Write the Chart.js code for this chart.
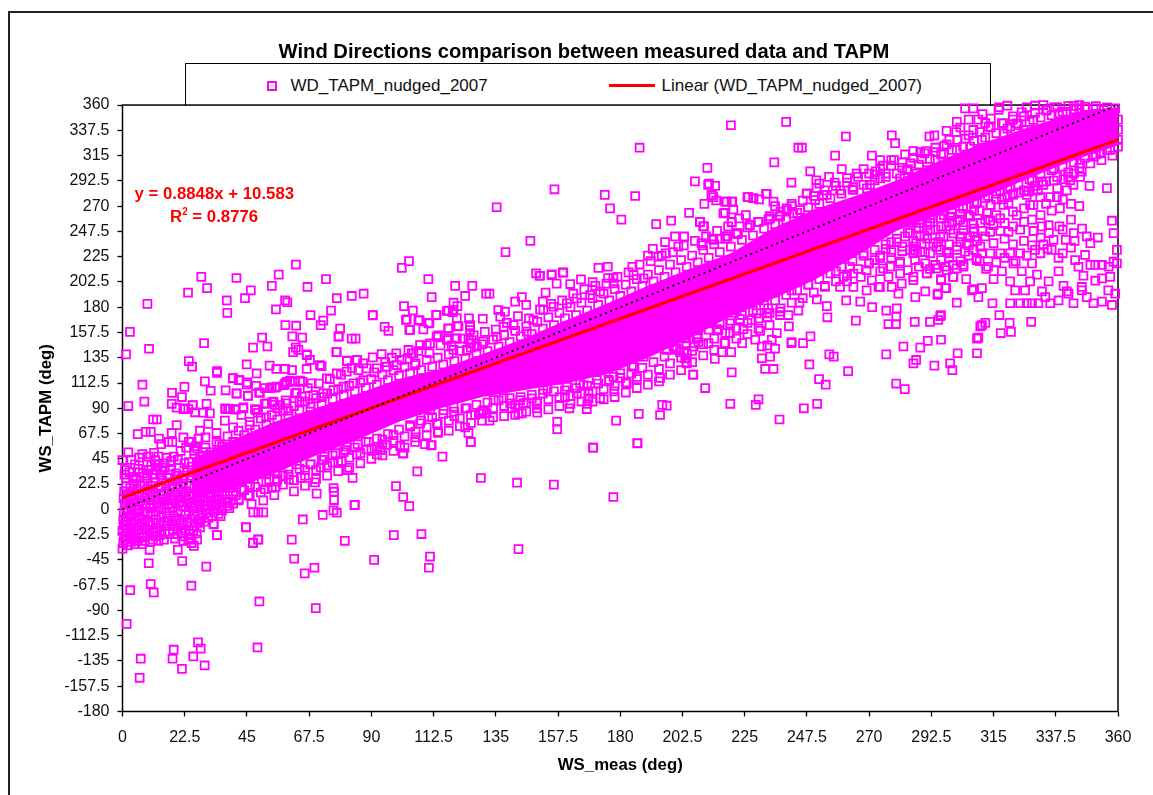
<!DOCTYPE html>
<html lang="en">
<head>
<meta charset="UTF-8">
<title>Wind Directions comparison</title>
<script src="https://cdn.jsdelivr.net/npm/chart.js"></script>
<style>
    body { margin: 0; background: #fff; font-family: "Liberation Sans", Arial, sans-serif; color: #000; overflow: hidden; }
    #frame { position: absolute; left: 8px; top: 11px; right: 0; bottom: 0; border-left: 2px solid #222; border-top: 2px solid #222; }
    #chart { position: absolute; left: 0; top: 0; }
    #legend { position: absolute; left: 184.5px; top: 62.5px; width: 804px; height: 42px; border: 1px solid #000; border-bottom: 0; background: #fff; font-size: 17px; color: #111; }
    #legend span { position: absolute; top: 12px; white-space: nowrap; }
    #legend .box { left: 81px; top: 17px; width: 6px; height: 6px; border: 2px solid #f0f; }
    #legend .line { left: 423px; top: 20px; width: 46px; height: 3px; background: #f00; }
    .eq { position: absolute; color: #f00; font-weight: bold; font-size: 16.8px; white-space: nowrap; }
    .eq sup { font-size: 10px; line-height: 0; }
</style>
</head>
<body>
<div id="frame"></div>
<div id="legend">
    <span class="box"></span><span style="left:105px">WD_TAPM_nudged_2007</span>
    <span class="line"></span><span style="left:476px">Linear (WD_TAPM_nudged_2007)</span>
</div>
<canvas id="chart" width="1153" height="795"></canvas>
<div class="eq" style="left:134.5px;top:184px">y = 0.8848x + 10.583</div>
<div class="eq" style="left:170px;top:207px">R<sup>2</sup> = 0.8776</div>

<script>
    const xTickLabels = ['0','22.5','45','67.5','90','112.5','135','157.5','180','202.5','225','247.5','270','292.5','315','337.5','360'];
    const yTickLabels = ['-180','-157.5','-135','-112.5','-90','-67.5','-45','-22.5','0','22.5','45','67.5','90','112.5','135','157.5','180','202.5','225','247.5','270','292.5','315','337.5','360'];

    // trendline and 1:1 line end points
    const trendX = [0, 360];
    const trendY = [10.6, 329.1];
    const oneToOneX = [0, 360];
    const oneToOneY = [0, 360];

    // the markers overlap into a solid mass along the middle, so that part is an envelope
    const bandX =      [25, 40, 55, 70, 85, 100, 115, 130, 145, 160, 175, 190, 205, 220, 235, 250, 265, 280, 295, 310, 325, 340, 350, 360];
    const bandTop =    [45, 62, 78, 90, 103, 116, 125, 138, 152, 168, 183, 199, 214, 228, 250, 267, 279, 293, 310, 325, 338, 350, 356, 358];
    const bandBottom = [10, 18, 32, 48, 62, 78, 90, 100, 106, 112, 120, 135, 152, 172, 187, 204, 225, 248, 262, 276, 292, 307, 316, 324];

    // individual markers [WS_meas, WS_TAPM], grouped by where they sit in the picture
    const farBelow = [
        [1.5,-102],[2.8,-72],[10.2,-66.5],[11.3,-74],[6.6,-133],[6.2,-150],[18.5,-125],[18.1,-133],[21.5,-142],[25.6,-131],[27.3,-118.5],[28.3,-124],[29.7,-139],
        [48.8,-123],[49.5,-82],[69.9,-88],[24.9,-68],[30.3,-51],[21.6,-46],[20,-36],[9.5,-48],[9.8,-36],[62.1,-44],[65.9,-57],[69.4,-52],[61.2,-27],[80.4,-28],
        [91,-45],[98.1,-23],[47.2,-30],[49.1,-27],[44.7,-16],[34.2,-23],[33,-13.4],[111.2,-42],[110.8,-52],[143.2,-35.4],[108.1,-22],[72.4,-5],[65.2,-9],[76.3,-1],[77.5,-3]
    ];
    const lowLeftCluster = [
        [0,-35],[0.3,-30],[2,-32],[1,-27],[3,-29],[4.5,-31],[0.5,-24],[2.5,-25],[4,-26],[6,-25],[8,-28],[7,-31],[0,-19],[1.5,-21],[3,-20],[5,-22],[7,-21],[9,-23],[11,-27],[13,-28],[15,-27],[17,-22],
        [0.5,-14],[2,-16],[4,-13],[6,-15],[8,-17],[10,-14],[12,-17],[14,-19],[16,-15],[18,-13],[21.4,-21],[21.6,-24],[24.5,-22],[26.8,-21.5],[23.8,-27],[25,-30],[25.8,-32.5],[24.5,-26],[20,-17],[22,-14],[24,-18],[26,-15],[28,-16],
        [0.3,-9],[2.2,-7],[4.1,-10],[6,-6],[8,-9],[10.2,-5],[12,-9],[14,-7],[16.2,-10],[18.5,-6],[20.5,-9],[22.7,-5],[25,-8],[27.3,-10],[29,-5],[31,-7.5],[34.7,-4],[32.9,-13],[34.1,-23],
        [0.5,-3],[2,-1],[4,-3.5],[6,0],[8,-2],[10,1],[12,-2],[14,1],[16,-3],[18,2],[20,-1],[22,2.5],[24,-2],[26,1],[28,3],[30,0],[32.3,3],[34,0.5],[36,-1],[38.6,1],[38,6],
        [0.8,5],[2.5,7],[4.5,4],[6.5,8],[8.5,5],[10.5,9],[12.5,6],[14.5,9],[16.5,5],[18.5,9],[20.5,7],[22.5,11],[24.5,6],[27,9],[29,7],[31,11],[33,8],[35,12],[37,9],[41,12.7],[45.5,12.7],
        [1.3,20.7],[1.3,27.6],[4.9,27.6],[8.8,27.6],[14.2,26],[3,14],[5,18],[7,13],[9,18],[11,15],[13,19],[15,14],[17,18],[19,15],[21,20],[23,16],[26,19],[29,16],[31,20],[34,17],[36,21],[39,19],
        [0.9,35],[4.5,40],[8.9,42],[14.2,35],[11.8,43.9],[0,43.9],[2.1,50.7],[7.2,49.2],[11.4,50.4],[6,33],[9.5,35],[11,31],[12.8,40],[17,31],[19,27],[20.5,37],[22,30],[24,42],[16,46],[18.5,47],[21,52],[23,55],[26,49],[14,58],[18,60],
        [16.6,60],[13.2,63],[17.8,68],[19.6,75],[5.5,67],[8.4,69],[10.2,69],[11.1,80],[12.4,80],[2.1,92],[7.9,96],[7.2,111],
        [5.5,-28],[10,-29],[12,-24],[19,-26],[22,-28],[27,-27],[1.2,-17],[3.4,-23],[5.6,-18],[7.7,-25],[9.8,-19],[11.3,-21],[13.5,-23],[15.4,-20],[18.2,-18],[19.8,-22],[22.8,-19],[25.6,-19],[27.8,-12],[29.6,-11],
        [1,-11],[3,-12],[5,-9],[7,-12],[9.2,-11],[11,-12],[13,-12],[15,-11],[17,-8],[19.4,-10],[21.4,-12],[23.6,-11],[26,-6],[28.5,-8],[30.5,-3],[33,-2],[35.5,-6],
        [1.4,1],[3.2,2],[5.2,-1],[7.3,3],[9.1,-3],[11.2,4],[13.2,2],[15.1,4],[17.1,1],[19.2,5],[21.2,3],[23.4,6],[25.4,3],[27.6,5],[29.7,3],[31.8,6],[33.7,4],[35.8,7],[37.9,3],[40,5],[42,8],
        [0.4,10],[2,12],[4,9],[6,12],[8,10],[10,13],[12,11],[14,13],[16,10],[18,13],[20,11],[22,15],[24,12],[26,14],[28,12],[30,15],[32,13],[34,9],[37,14],[40,16],[43,18],[46,22],
        [0.6,16],[2.8,19],[4.2,23],[6.4,21],[8,23],[10.2,21],[12,24],[13.8,21],[15.8,23],[18,22],[20,25],[22,23],[24.2,21],[27.2,23],[30,24],[32.4,23],[35,25],[38,24],
        [0.7,31],[2.5,33],[3.8,29],[5.7,36],[7.4,32],[9,30],[10.4,39],[12,35],[13.6,31],[15.3,37],[17.4,35],[19.3,32],[21.6,28],[23.5,33],[25.2,30],[27.5,27],[29.5,32],[31.5,28],[33.5,33],[36,30],[40,34],
        [3.2,44],[6,46],[9.4,47],[13,47],[15,41],[17.6,43],[20,44],[22.4,41],[25,38],[27.4,42],[29.6,38],[32,41],[26.4,56],[29,51],[31.5,48],[34,46],[36.5,51],[38.5,47],[24,60],[27.5,63]
    ];
    const lowBandEdge = [
        [46.7,4.7],[50.9,8],[47.3,-2.7],[49.1,-2.7],[50.9,-2.7],[44.6,-15.8],[49.1,-26.7],[47.2,-29.7],[54.9,12.7],[51.5,18],[46.1,20],[55.4,20],[55.8,24.6],[53,26.7],[60.2,26.7],[64.5,28],[69.6,24],[70.2,14],
        [76.3,19],[76.5,15.7],[76.5,8.3],[83.9,3.8],[83.2,28],[81.4,35],[79.3,43],[71.7,37.4],[76,41.5],[72.5,44],[84.7,49],[88.3,53.4],[92,54.3],[93.4,52.8],[95.6,57.3],[100.4,56.6],[101.4,49.5],[92,49],[80.6,52.8],
        [41,22],[43,26],[38,29],[42,33],[45,31],[47.5,27],[49,35],[52,32],[56,33],[58,30],[36,37],[39,43],[40,24],[44,40],[60,36],[63,40],[66,35],[68,40],[73,47],[77,50],[81,56],[85,58],[89,60],[94,62],[98,66],
        [98.9,20.7],[101.5,11],[103.7,2.9],[106.6,33.8],[84,4],[115.7,46.9],[126,60],[111.6,57],[109.4,58],[105.8,60],[101.6,50],[125.9,60],[125.1,68],[123.9,73],[132.7,79],[129.3,85],[131.7,85.5],[120,83],[114.2,69],[111.8,57.3],
        [157.2,78],[157.2,71.4],[161.6,90],[178.5,79],[186.7,85],[170.2,55],[186.2,59],[186.2,58.8],[170.2,54.9],[194.4,84],[195.2,93],[196.8,92.3],[194.4,117],[206.4,120],[186,118],[182.4,112],[177.8,105],[172.7,99],[164.3,103],[153.7,107.4],[160,100],
        [168.5,104.7],[168.5,98.8],[168.1,93.8],[167.9,89.3],[149.8,94.4],[149.8,90],[143.8,97.3],[140.8,90],[143.2,85.5],[144.4,85.5],[204,130],[203.5,134.5],[201.6,140],[199.2,144.8],[184.8,127],[142.7,23.7],[129.6,27.9],[156,22],[177.5,11],
        [107.6,76.6],[104,73.6],[110.6,82.5],[113.7,76.6],[102.8,85.5],[106.4,88.4],[111.3,88.4],[116.1,88.4],[119.7,91.4],[124.5,89.9],[127.5,84],[130.5,88.4],[134.2,97.3],[137.8,98.8],[140.2,94.4],[145,94.4],[148,98.8],[152.2,106.3],[157.1,115.2],[160.7,109.2],
        [166.7,110.7],[171.5,115.2],[175.8,115.2],[180,121.1],[184.2,127],[188.4,135.9],[192,146.3],[196.8,141.9],[200.5,143.4],[204.1,138.9],[206.5,144.8],[203.5,152.3],[207.7,152.3],[208.3,161.2],[202.9,174.5],[207.7,171.5],[193.2,155.2],[187.8,138.9],[177.6,118.1],[165.5,112.2],[156.5,116.6]
    ];
    const upperLeft = [
        [2.7,158],[1.3,138],[9,183],[9.6,143],[23.7,193],[28.5,207],[30.6,197],[41.2,206],[37.7,186],[37.9,175],[44.3,188],[46.4,195],[54,199],[56.5,209],[62.7,218],[66.9,198],[73.6,205],[58.8,186],[59.6,184.4],[55.5,178],
        [68,173],[75.4,177],[77.5,188],[82.9,190],[87.2,192],[90.5,173],[72.6,168],[71.7,164],[58.9,164],[62.8,163.5],[78.7,161],[78.1,154],[82.9,152],[84.3,152],[61.4,154],[65,153],[50.5,153],[52.4,145],[47.2,144],[29.5,148],
        [77.3,140],[62.7,144],[63.6,142],[61.7,140],[66.7,137.4],[67.8,133],[72,127.5],[81.2,132],[84.9,133],[24,132],[25.2,127],[34.2,123],[34.2,121.6],[44.9,129],[53.2,128],[48.5,121],[55.6,125],[58.8,125],[61.3,124],[66.6,125],
        [39.9,116.7],[42,115],[45.1,113],[29.8,114],[22.4,109],[31.9,105.6],[17.9,103.8],[37.3,106],[41.2,103],[45.3,101],[21.5,100],[48.3,110],[49.7,103.8],[51.5,108],[53.3,108],[55.2,108.3],[58.5,110.7],[59.4,113.6],[62.4,113.6],[65,113.6],
        [17.8,94],[19.6,90.5],[25.4,92.6],[30.4,94],[22,89.3],[23.8,89.3],[26.2,86.4],[31.6,85.5],[29.2,86],[37.3,89.3],[38.2,89.3],[40.9,88.7],[43.7,90],[48.3,88.4],[51.5,94],[54,95.3],
        [101.8,181],[105,177],[102.5,168.6],[107,168],[111,166],[103.7,159.7],[108.8,160.3],[113.4,173],[117.8,161],[121.1,163],[125.3,170],[125.7,164],[125.7,159.7],[130.3,169.7],[114.2,155],[117.8,152],[120.3,152],[125.1,151.4],
        [110.6,205],[120.3,199],[126.5,199],[123.9,190],[111.8,189],[131.5,192],[132.7,192],[119.7,184],[121.1,181],[117.8,177],[119.4,175.5],[101,215],[103.6,221],[138.5,229],[147.5,239],[135.3,269],[156.2,285],[135.9,177.5],[138.3,176],
        [142,185],[144.4,189],[146,182],[152,185],[153,193],[157,201],[150.8,208],[155.2,208.6],[159.4,210.7],[161.9,200.6],[165.8,204.8],[170,202.4],[175.6,206],[177.5,206],[149.6,210.2],[151,208],[155.2,209.3],[159.2,211],
        [71.4,128.5],[66.6,138],[77.5,140],[81.1,132.4],[84.7,133],[90.5,135.3],[93.7,138.3],[97.4,135],[101,133],[104.6,138.9],[103.4,141.9],[107.6,146.3],[111.2,147.8],[113.6,153.7],[117.3,150.8],[120.9,152.3],[125.7,147.8],[128.1,144.8],[126.3,150.8],
        [117.9,161.2],[121.5,163.2],[125.7,162.6],[110.6,165.6],[107.4,168.6],[104,159.7],[102.8,169.2],[113.6,173],[119.7,177.5],[117.3,176.6],[120.9,170],[90.5,172.7],[94.8,162.6],[96.2,159],[78.2,153.7],
        [44.9,111.3],[39.9,116.9],[42.3,115],[41.3,103.3],[45.4,101.2],[49.4,104.2],[54,108.6],[55.8,109.2],[58.8,112.2],[60.6,114.6],[64.2,114.6],[68.4,112.2],[73.9,116.6],[77.5,121],[81.1,122.6],[85.3,124],[88.3,125.5],[92,125.5],[95.6,127],[99.2,128.5],[105.8,128.5],
        [52.1,94.4],[54.6,95.9],[57,92.9],[59.4,94.4],[62.4,103.3],[64.8,100.3],[69,101.8],[72.6,103.3],[76.3,106.2],[79.9,109.2],[83.5,112.2],[87.1,115],[25.4,92.9],[22.6,89.9],[37.1,89.9],[38.9,89.3],[40.7,89.3],[43.7,90.8],[47.9,89.3],
        [28,70],[31,76],[34,68],[37,79],[40,73],[43,84],[46,78],[49,86],[52,82],[56,90],[60,88],[64,96],[68,94],[72,100],[25,60],[30,64],[35,58],[27,54],[22,64],
        [105.2,138.9],[110,146.3],[119.7,141.9],[124.5,141.9],[130.5,149.3],[135.4,153.7],[137.8,162.6],[136.6,171.5],[141.4,164.1],[146.2,158.2],[148.6,168.6],[152.2,177.5],[155.9,180.4],[160.7,183.4],[164.3,187.9],[169.1,190.8],[172.7,193.8],[177.6,201.2],[184.8,208.6],[188.4,205.7]
    ];
    const upperMiddle = [
        [220,342],[240,345],[187,322],[244.4,322],[235.7,309],[211.5,304],[207,292],[241.9,291],[212.1,290],[214.3,288],[213.1,280],[213.7,278],[214.7,275],[210.4,272],[174.4,280],[176.3,268],[185.4,279],[180.4,258],[193,254],[198.4,257],[204.9,264],[208.9,256],[210.3,252],
        [172.1,215],[175.5,216],[184.4,216],[190,226],[191.8,232],[193.8,225],[196.5,228],[196.2,238],[199.8,243],[203.1,243],[201,234],[209.7,235],[213.1,241],[216.1,241],[218.8,243],[222.4,245],[217.9,264],[220.3,256],[217.9,274],[220.3,274],[220.9,267],[225.4,262],[226.7,253],
        [226,278],[228.2,277],[230.2,276],[233,281],[235.4,274],[236,270],[230,256],[233.6,258],[237.8,262],[240.2,268],[211.8,289],[213,280],[208.8,256],[210,252],[209.4,237],[213.7,240],[218.5,243],[222.5,246],[217.3,263.5],[220.3,255.5],[218.5,274],[220.5,274],
        [226.3,278],[228.1,277],[232.7,281],[240.2,266.5],[242,272],[245,266.5],[247.4,281],[253.4,280],[259.5,284],[264.3,287],[226.9,253],[229.9,256],[234.2,259],[237.8,260.6],[242.6,263.5],[251,286],[270.3,289],
        [261.6,332],[278.2,333],[279.4,326],[304.7,357],[307.7,357],[316.8,355.6],[320,359.4],[325.2,353.5],[330,359.4],[301.7,345],[301.5,336],[309.5,347],[293.6,333],[291.8,332],[288.5,318],[290.6,319],[304.7,330],[297.1,323.5],[245.7,322],[257.7,315],[271,315],[278,311],
        [248.7,301],[250.9,293],[257.5,291],[260.1,303],[268,303],[272.4,301],[276,299],[282,304],[348.1,358.6],[351.1,357],[354.8,355.6],[359,357],[360,347],[360,338],[360,329],[329.4,346.7],[334.3,355.6],[338.5,352.6],[341.5,354],[318.6,343.7],[321,340.8],[323.4,343.7],[325.8,337.8],[313.2,340.8],
        [307.7,337.8],[310.8,329],[306.5,323],[301.7,320],[296.9,317],[293.9,311],[290.9,302],[287.2,299],[283.6,302],[281.2,294.7],[274,294.7],[269.2,285.8],[264.3,284.4],[254.7,280],[250.5,275.4],[247.5,281.4],[315,323],[318.6,334.8],
        [252,290],[255.5,296],[262,295],[265.5,299],[272,298],[275,306],[279,311],[285,308],[289,312],[294,318],[298,337],[303,340],[306,347],[311,352],[314,348],[317,358],[322,350],[327,358],[333,360],[337,358],[344,359],[346,357],[312,344],[299,329],[286,319],[283,316],[274,311]
    ];
    const lowerRight = [
        [233.5,179],[233.2,171],[244.4,177],[244.8,184],[251.1,187],[241,163],[237.8,176],[254.7,181],[254.9,171],[265.2,168],[261.7,186],[266.8,185],[271.1,180],[276.2,177],[280,179],[279.8,171.5],[277,165],[279.7,165],[286.5,167],[292,167],[295,168.6],[296,173],
        [290.3,194],[286.7,189],[294.7,191],[301.7,184],[297.5,197],[305.1,205],[300.3,207],[296,205],[307.2,195],[309.5,189],[310.2,163],[309,152],[309,139],[302,139],[299.3,130],[300.1,124],[293.6,128],[296,151],[291.2,150],[288.5,144],[282.4,145],[276.2,138],
        [287,133],[286,130],[279.8,112],[282.9,107],[262.4,123],[251.9,116],[254.3,111],[248.4,129],[257.2,136],[255.6,138],[248.8,154],[246.1,148],[242,149],[237.6,80],[235.4,125],[232.4,125],[220.3,122],[210.7,108],[206.4,120],[219.8,94],[230,98],[229,93],[246.4,90],[251.2,94],[214.2,134],[204,130.5],
        [203.5,153],[203,140],[208.3,149],[211.9,148],[217.7,148],[224.1,148],[228.8,151],[230.6,159],[236.6,157],[234.8,151],[233.2,146],[231.2,145],[236,143],[231.2,134.5],[234.2,136],[216.7,140],[220.1,140],[219.7,157],[214.9,160.5],[224.5,160.5],[241.9,148],
        [314.6,183.5],[321,183.5],[324.6,183.5],[327,183.5],[328.9,183.5],[331.2,183.5],[335.5,183.5],[338.5,186],[342.1,192],[343.9,183.5],[346.9,195],[348.7,189],[351.1,183.5],[354.2,185],[357.8,182],[359,192],[356.5,195],[358.4,220.5],[359.6,219],[356.6,216],[354.2,217.6],[351.8,217.6],[350,217.6],[359.6,231],[358.4,246],[357.8,257],[356,286],[349.7,288],
        [352.7,242],[350,237],[348.7,243],[344.3,239],[341.1,240],[336.7,240],[334.5,232],[331.9,228],[338.8,252],[334.9,253],[332.5,252],[329.5,248],[338.5,224],[338.5,212],[348.1,226.5],[344.5,222],[345.7,216],[347.5,208],[351.8,203.6],[354.2,205.7],[357.2,207],[340.3,199],[341.5,194],[346.9,198],[333.7,189],[332.5,194],[330.7,209],[334.9,203],[328.2,203],[325.2,212],
        [326.4,195],[322.8,195],[321,203],[318,212],[312.3,214],[315,205],[307.7,196],[310.8,197],[300.5,207],[296,204],[297.9,197],[294.9,192],[280.6,192],[273.4,198],[278.2,198],[281.8,201],
        [295.7,172],[317.1,173],[320.8,166],[328.6,167],[310.8,164],[312,166],[317.6,157],[321.3,158],[309.5,153],
        [286,234],[286.6,231],[288.5,229],[292.1,228],[295.7,231],[298.7,228],[301.7,234],[304.7,229.5],[307.7,231],[310.8,228],[286.6,222],[290.3,219],[293.9,217.6],[297.5,216],[300.5,217.6],[304.1,217.6],[308.9,222],[281.2,219],[277.6,216],[281.2,210],[286,207],[290.9,210],
        [284.8,246],[288.5,243],[292.1,249],[295.7,243],[299.3,249],[302.9,243],[306.5,243],[310.2,234],[313.8,228],[317.4,228],[321,228],[324.6,228],[328.9,219],[322.2,219],[320.4,247],[324.6,249],[329.4,248],[317.4,259],[313.8,257],[310.2,255],[306.5,260.6],[302.9,258],[299.3,260.6],[295.7,259],[292.1,259],[288.5,255],[284.8,255],
        [305.3,269.5],[308.9,272.5],[313.8,271],[318.6,271],[312.6,263.6],[323.4,262],[317.4,248],[313.8,247],[307.7,247],[329.4,284],[331.9,278],[335.5,278],[337.9,278],[327.6,283],[328.2,271],[329.4,271],[343.9,289],[341.5,284],[324.6,299],[321,287],[317.4,284],[322.2,281],[320.4,272.5],
        [357.2,320],[353.6,317],[351.2,314],[346.3,308],[346.9,300.7],[346.3,296],[342.7,293],[340.3,294],[336.7,292.7],[332.5,291.8],[328.9,292.7],[336.7,303.6],
        [203.4,168.5],[206.4,174.5],[208.2,159.6],[211.8,165.6],[215.5,159.6],[219.7,165.6],[223.3,169.4],[227.5,168.5],[229.3,174.5],[222.1,177.4],[216.1,174.5],[210.6,176],[204,176],[233,174.5],[237.8,173],[240.8,173],[259.5,198],[264.3,198],[269.1,195],[273.9,198],[286,204],[290.8,210],[294.4,214.6],[298.1,213],[301.7,214.6],[304.1,216],
        [281.2,220.5],[275.1,214.6],[269.1,213],[264.3,210],[260.7,207],[286,228],[290.2,229],[294.4,233.8],[298,229],[301.7,231],[305.3,236.8],[308.3,242.7],[308.9,223.5],[307.7,254.6],[304.1,248.7],[300.5,245.7],[296.9,242.7],[293.2,236.8],[289,236.8],[284.8,231],[280,238],[276,232],[272,222],[268,228],[263,216],[258,212],[255,220],
        [205,195],[211,190],[218,188],[224,192],[230,186],[236,197],[242,195],[248,200],[254,198],[213,181],[221,180],[227,183],
        [262,203],[267,207],[271,204],[274,212],[277,207],[284,213],[288,216],[292,214],[296,222],[299,224],[303,221],[306,226],[310,221],[313,216],[316,220],[319,224],[323,221],[327,226],[330,231],[333,236],[336,231],[340,228],[343,233],
        [270,219],[274,226],[278,224],[282,230],[287,237],[291,241],[295,238],[299,236],[303,238],[306,235],[309,239],[312,243],[315,237],[319,241],[322,236],[326,239],[329,235],[332,242],[335,246],[340,249],[344,246],[347,250],[343,258],
        [278,238],[283,243],[287,250],[291,253],[296,252],[300,255],[304,253],[308,250],[311,248],[315,253],[319,255],[322,252],[326,256],[329,258],[332,262],[336,266],[339,268],[343,272],[346,270],[334,272],[340,276],[326,268],[322,265],[316,262],[312,258],[308,266],[303,263],
        [297,262],[300,267],[304,270],[309,274],[313,279],[316,276],[320,278],[324,282],[327,280],[331,284],[333,289],[338,286],[342,296],[344,299]
    ];
    // markers just outside the solid part, top side then bottom side
    const topEdge = [
        [26,52],[28,47],[30,55],[32,51],[34,60],[36,56],[38,65],[40,60],[42,70],[44,66],[46,75],[48,71],[50,81],[52,76],[54,84],[56,80],[58,88],[60,83],[62,92],[64,88],[66,96],[68,91],[70,99],[72,94],[74,103],[76,98],[78,107],[80,101],[82,110],[84,105],[86,113],[88,108],[90,116],[92,111],[94,120],[96,115],[98,124],[100,119],
        [102,127],[104,121],[106,130],[108,124],[110,133],[112,127],[114,135],[116,129],[118,138],[120,132],[122,141],[124,134],[126,144],[128,139],[130,147],[132,141],[134,151],[136,145],[138,155],[140,149],[142,159],[144,154],[146,163],[148,156],[150,167],[152,161],[154,171],[156,164],[158,175],[160,170],[162,180],[164,173],[166,184],[168,177],[170,188],[172,182],[174,192],[176,186],[178,196],[180,190],
        [182,200],[184,194],[186,205],[188,199],[190,209],[192,203],[194,213],[196,207],[198,218],[200,211],[202,222],[204,216],[206,226],[208,220],[210,231],[212,224],[214,236],[216,229],[218,241],[220,234],[222,246],[224,240],[226,251],[228,244],[230,256],[232,250],[234,261],[236,254],[238,265],[240,258],[242,270],[244,264],[246,275],[248,269],[250,279],[252,272],[254,284],[256,277],[258,288],[260,281],
        [262,291],[264,285],[266,296],[268,289],[270,299],[272,293],[274,303],[276,296],[278,306],[280,299],[282,309],[284,303],[286,313],[288,307],[290,317],[292,312],[294,322],[296,316],[298,325],[300,320],[302,329],[304,323],[306,333],[308,328],[310,336],[312,331],[314,340],[316,335],[318,344],[320,339],[322,347],[324,342],[326,350],[328,345],[330,353],[332,349],[334,355],[336,351],[338,358],[340,354],[342,359],[344,356],[346,360],[348,357],[352,359],[356,358]
    ];
    const bottomEdge = [
        [26,2],[28,8],[30,0],[32,7],[34,4],[36,12],[38,6],[40,14],[42,9],[44,17],[46,12],[48,20],[50,15],[52,24],[54,19],[56,27],[58,22],[60,31],[62,26],[64,36],[66,30],[68,40],[70,35],[72,44],[74,39],[76,48],[78,42],[80,51],[82,46],[84,55],[86,50],[88,60],[90,54],[92,63],[94,58],[96,67],[98,61],[100,71],
        [102,65],[104,75],[106,69],[108,79],[110,73],[112,82],[114,76],[116,85],[118,79],[120,87],[122,81],[124,90],[126,84],[128,93],[130,87],[132,95],[134,90],[136,97],[138,92],[140,99],[142,93],[144,100],[146,95],[148,102],[150,96],[152,103],[154,98],[156,105],[158,100],[160,106],[162,101],[164,108],[166,103],[168,110],[170,105],[172,112],[174,107],[176,114],[178,110],[180,117],
        [182,113],[184,121],[186,116],[188,126],[190,120],[192,131],[194,125],[196,136],[198,130],[200,142],[202,135],[204,148],[206,141],[208,154],[210,147],[212,160],[214,152],[216,165],[218,157],[220,168],[222,161],[224,173],[226,166],[228,177],[230,170],[232,182],[234,175],[236,186],[238,179],[240,191],[242,184],[244,195],[246,188],[248,200],[250,193],[252,205],[254,199],[256,210],[258,203],[260,216],
        [262,208],[264,221],[266,214],[268,226],[270,219],[272,231],[274,224],[276,236],[278,229],[280,241],[282,234],[284,246],[286,239],[288,251],[290,244],[292,255],[294,249],[296,259],[298,252],[300,264],[302,257],[304,268],[306,262],[308,272],[310,266],[312,277],[314,271],[316,281],[318,276],[320,285],[322,280],[324,289],[326,284],[328,294],[330,288],[332,298],[334,292],[336,302],[338,296],[340,305],[342,300],[344,309],[346,304],[348,313],[350,308],[352,316],[354,311],[356,320],[358,315],[360,323]
    ];
    // looser scatter beyond those edges, left and middle of the cloud
    const topLoose = [
        [55,93],[59,97],[63,104],[67,108],[71,112],[75,116],[79,120],[83,126],[87,130],[91,122],[95,131],[99,139],[103,134],[107,141],[111,139],[115,146],[119,146],[123,152],[127,155],[131,158],[135,160],
        [139,166],[143,172],[147,170],[151,178],[155,183],[159,186],[163,192],[167,196],[171,199],[175,201],[179,207],[183,211],[187,218],[191,221],[195,226],[199,229],[203,235],[207,239],[211,243],[215,248],[219,252],[223,259]
    ];
    const bottomLoose = [
        [62,16],[66,21],[70,27],[74,30],[78,34],[82,37],[86,41],[90,45],[94,48],[98,52],[102,55],[106,64],[110,66],[114,68],[118,70],[122,74],[126,77],[130,79],[134,82],[138,83],[142,84],[146,87],[150,86],
        [154,89],[158,92],[162,94],[166,96],[170,96],[174,98],[178,100],[182,104],[186,108],[190,111],[194,114],[198,120],[202,124],[206,131],[210,137],[214,142],[218,148],[222,152],[226,156],[230,161],[234,164]
    ];

    const allMarkers = [farBelow, lowLeftCluster, lowBandEdge, upperLeft, upperMiddle, lowerRight, topEdge, bottomEdge, topLoose, bottomLoose].flat();
    const toPoints = (xs, ys) => xs.map((x, i) => ({ x: x, y: ys[i] }));

    Chart.defaults.font.family = '"Liberation Sans", Arial, sans-serif';
    Chart.defaults.color = '#111';

    // black box round the plot, the axes only give ticks and labels
    const plotFrame = {
        id: 'plotFrame',
        beforeDatasetsDraw(chart) {
            const a = chart.chartArea, ctx = chart.ctx;
            ctx.save();
            ctx.strokeStyle = '#000';
            ctx.lineWidth = 1.5;
            ctx.strokeRect(a.left, a.top, a.right - a.left, a.bottom - a.top);
            ctx.restore();
        }
    };

    new Chart(document.getElementById('chart'), {
        type: 'scatter',
        data: {
            datasets: [
                { type: 'line', label: '1:1', data: toPoints(oneToOneX, oneToOneY), borderColor: '#000', borderWidth: 2, borderDash: [2, 3.6], pointRadius: 0, order: 0, clip: false },
                { type: 'line', label: 'Linear (WD_TAPM_nudged_2007)', data: toPoints(trendX, trendY), borderColor: '#f00', borderWidth: 3.2, pointRadius: 0, order: 1, clip: false },
                { label: 'WD_TAPM_nudged_2007', data: allMarkers.map(p => ({ x: p[0], y: p[1] })), pointStyle: 'rect', pointRadius: 5.6, borderWidth: 1.8, borderColor: '#f0f', backgroundColor: 'transparent', order: 2, clip: false },
                { type: 'line', label: 'band top', data: toPoints(bandX, bandTop), borderWidth: 0, pointRadius: 0, fill: '+1', backgroundColor: '#f0f', order: 3 },
                { type: 'line', label: 'band bottom', data: toPoints(bandX, bandBottom), borderWidth: 0, pointRadius: 0, order: 3 }
            ]
        },
        options: {
            responsive: false,
            animation: false,
            layout: { padding: { left: 50, right: 35, top: 0, bottom: 0 } },
            plugins: {
                legend: { display: false },
                tooltip: { enabled: false },
                title: {
                    display: true,
                    text: 'Wind Directions comparison between measured data and TAPM',
                    color: '#000',
                    font: { size: 20.2, weight: 'bold' },
                    padding: { top: 40, bottom: 40.8 }
                }
            },
            scales: {
                x: {
                    type: 'linear',
                    min: 0, max: 360,
                    grid: { drawOnChartArea: false, tickLength: 5, tickColor: '#000', tickWidth: 1.3 },
                    border: { display: false },
                    afterFit(scale) { scale.height = 83.5; },
                    afterBuildTicks(scale) { scale.ticks = xTickLabels.map(t => ({ value: Number(t) })); },
                    ticks: { autoSkip: false, maxRotation: 0, padding: 11, font: { size: 16 }, color: '#111', callback: (v, i) => xTickLabels[i] },
                    title: { display: true, text: 'WS_meas (deg)', color: '#000', font: { size: 16.8, weight: 'bold' }, padding: { top: 0, bottom: 20 } }
                },
                y: {
                    min: -180, max: 360,
                    grid: { drawOnChartArea: false, tickLength: 5, tickColor: '#000', tickWidth: 1.3 },
                    border: { display: false },
                    afterFit(scale) { scale.width = 72.5; },
                    afterBuildTicks(scale) { scale.ticks = yTickLabels.map(t => ({ value: Number(t) })); },
                    ticks: { autoSkip: false, padding: 8, font: { size: 16 }, color: '#111', callback: (v, i) => yTickLabels[i] },
                    title: { display: true, text: 'WS_TAPM (deg)', color: '#000', font: { size: 16.8, weight: 'bold' }, padding: { top: -14, bottom: 0 } }
                }
            }
        },
        plugins: [plotFrame]
    });
</script>
</body>
</html>
